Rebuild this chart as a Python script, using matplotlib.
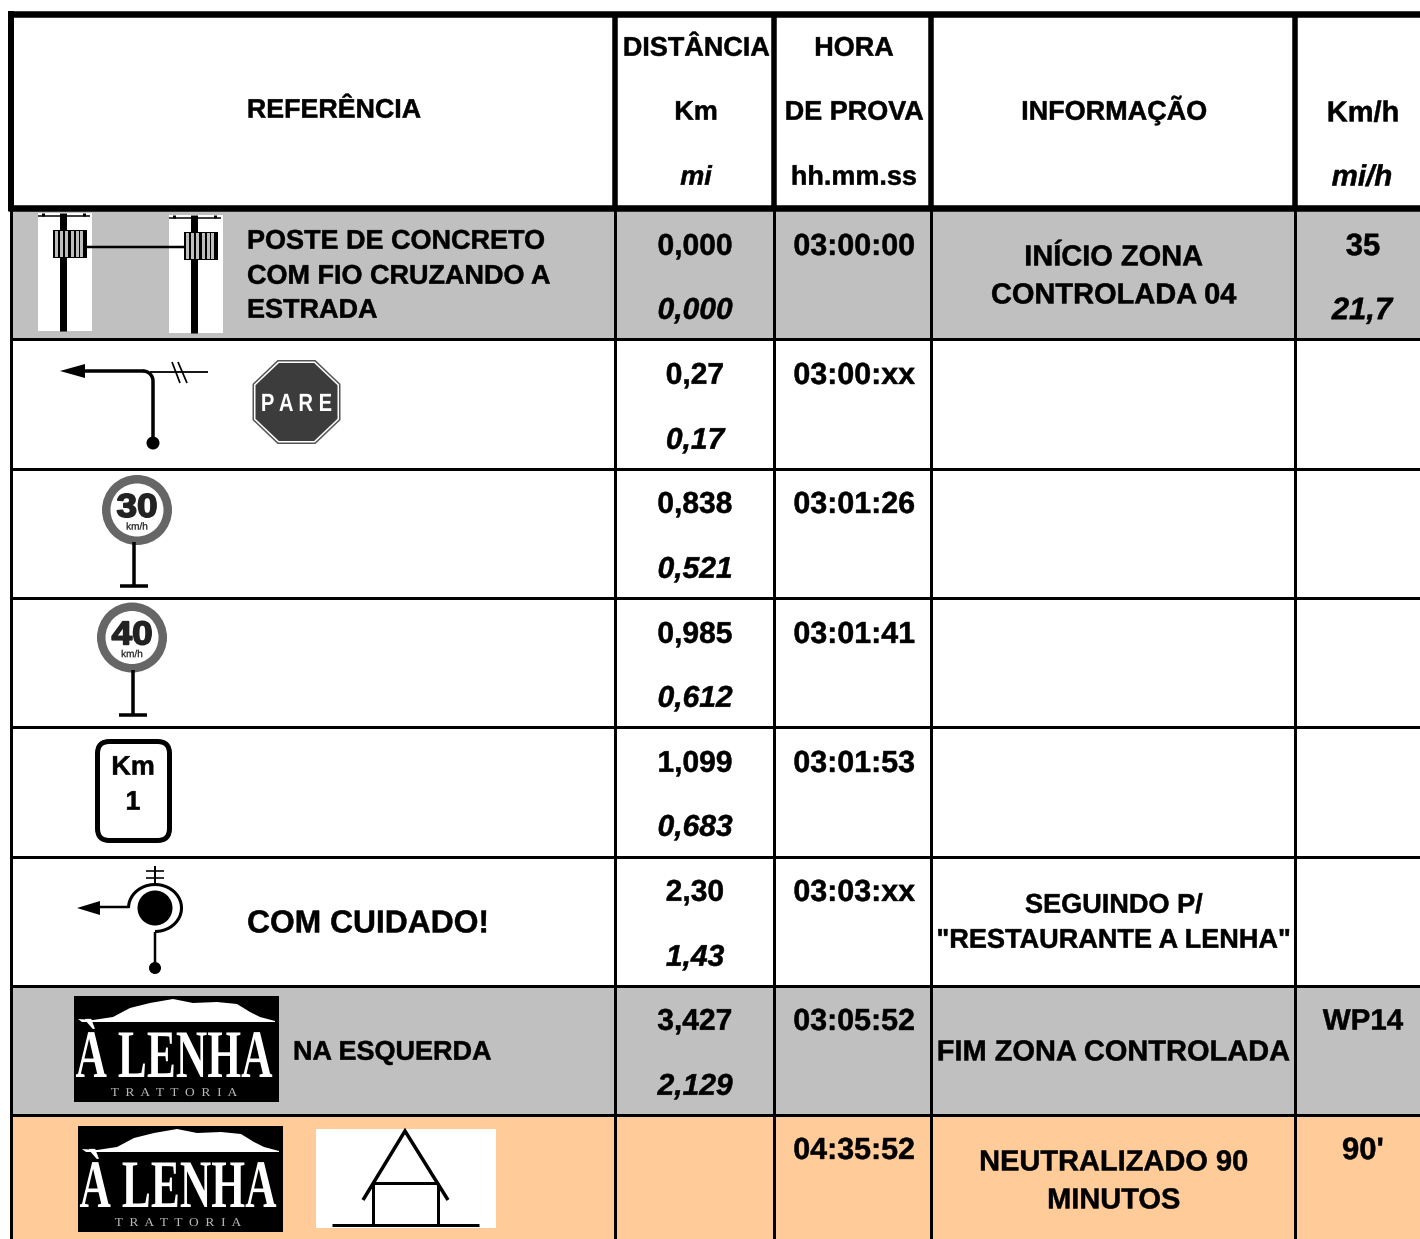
import matplotlib
matplotlib.use("Agg")
import matplotlib.pyplot as plt
from matplotlib.patches import Rectangle, Circle, Polygon, FancyBboxPatch, Arc
from matplotlib.patheffects import AbstractPathEffect
from matplotlib.transforms import Affine2D

# ---- table content ----
km_values = ["0,000", "0,27", "0,838", "0,985", "1,099", "2,30", "3,427", ""]
mi_values = ["0,000", "0,17", "0,521", "0,612", "0,683", "1,43", "2,129", ""]
times = ["03:00:00", "03:00:xx", "03:01:26", "03:01:41", "03:01:53", "03:03:xx", "03:05:52", "04:35:52"]
info_lines = [["INÍCIO ZONA", "CONTROLADA 04"], [], [], [], [],
              ['SEGUINDO P/', '"RESTAURANTE A LENHA"'], ["FIM ZONA CONTROLADA"],
              ["NEUTRALIZADO 90", "MINUTOS"]]
speed_top = {0: "35", 6: "WP14", 7: "90'"}
speed_bot = {0: "21,7"}
ref_lines = ["POSTE DE CONCRETO", "COM FIO CRUZANDO A", "ESTRADA"]

# ---- layout ----
W, H = 1420, 1239
row_y = [208, 339, 469, 598, 727, 857, 986, 1115, 1245]
col_x = [11, 615, 774, 931, 1295]
line1_y = [244, 373, 502, 632, 761, 890, 1019, 1148]
line2_y = [308, 438, 567, 696, 825, 955, 1084, 1213]
GRAY, ORANGE = "#C0C0C0", "#FFCC99"
row_fill = {0: GRAY, 6: GRAY, 7: ORANGE}
SANS, SERIF = "Liberation Sans", "Liberation Serif"
HEAVY = 0.35

fig = plt.figure(figsize=(W / 100, H / 100), dpi=100, facecolor="white")
ax = fig.add_axes([0, 0, 1, 1])
ax.set_xlim(0, W)
ax.set_ylim(H, 0)
ax.axis("off")


class Ink(AbstractPathEffect):
    """Draw real text stretched horizontally around an anchor pixel column, optionally heavier."""
    def __init__(self, cx, sx=1.0, stroke=0.0):
        super().__init__()
        self.cx, self.sx, self.stroke = cx, sx, stroke

    def draw_path(self, renderer, gc, tpath, affine, rgbFace=None):
        t = affine + Affine2D().translate(-self.cx, 0).scale(self.sx, 1).translate(self.cx, 0)
        gc0 = renderer.new_gc()
        gc0.copy_properties(gc)
        gc0.set_linewidth(self.stroke)
        if rgbFace is not None:
            gc0.set_foreground(rgbFace)
        renderer.draw_path(gc0, tpath, t, rgbFace)
        gc0.restore()


def T(x, y, s, px=27, ha="center", style="normal", weight="bold", color="black",
      family=SANS, sx=1.0, stroke=HEAVY, z=5):
    """y is the vertical middle of the capitals, px the em size in pixels."""
    t = ax.text(x, y + 0.36 * px, s, fontsize=px * 0.72, ha=ha, va="baseline", style=style,
                weight=weight, color=color, family=family, zorder=z)
    t.set_path_effects([Ink(x, sx, stroke)])
    return t


def L(xs, ys, px=3, color="black", z=3, cap="butt"):
    ax.plot(xs, ys, color=color, lw=px * 0.72, solid_capstyle=cap, solid_joinstyle="miter", zorder=z)


def R(x0, y0, x1, y1, color, z=1):
    ax.add_patch(Rectangle((x0, y0), x1 - x0, y1 - y0, fc=color, ec="none", zorder=z))


def dot(x, y, r, color="black", z=4):
    ax.add_patch(Circle((x, y), r, fc=color, ec="none", zorder=z))


def poly(pts, color="black", z=4):
    ax.add_patch(Polygon(pts, closed=True, fc=color, ec="none", zorder=z))


# ---- fills and grid ----
for i, c in row_fill.items():
    R(11, row_y[i], W, row_y[i + 1], c)
for y in row_y[1:-1]:
    L([10, W], [y, y], 3)
L([8, W], [14, 14], 6.5)
L([8, W], [208, 208], 6.5)
L([11, 11], [11, 211], 6)
L([10.5, 10.5], [208, H], 3)
for x in col_x[1:]:
    L([x, x], [14, 208], 5.5)
    L([x, x], [208, H], 3)

# ---- header ----
T(333.5, 108, "REFERÊNCIA", 26.8)
for y, s, st in [(46, "DISTÂNCIA", "normal"), (110, "Km", "normal"), (175, "mi", "italic")]:
    T(696, y, s, 27, style=st)
for y, s in [(46, "HORA"), (110, "DE PROVA"), (175, "hh.mm.ss")]:
    T(854, y, s, 27)
T(1114, 110, "INFORMAÇÃO", 27)
T(1363, 111, "Km/h", 29)
T(1362, 175, "mi/h", 29.5, style="italic")

# ---- body ----
for i in range(8):
    T(695, line1_y[i], km_values[i], 30)
    T(695, line2_y[i], mi_values[i], 30, style="italic")
    T(854, line1_y[i], times[i], 30.4)
for y, s in zip([239, 274, 308], ref_lines):
    T(247, y, s, 27, ha="left")
T(247, 921, "COM CUIDADO!", 31.8, ha="left")
T(293, 1050, "NA ESQUERDA", 27, ha="left")
for ys, lines, px in [((255, 293), info_lines[0], 29), ((903, 938), info_lines[5], 27.1),
                      ((1050,), info_lines[6], 29), ((1160, 1198), info_lines[7], 29)]:
    for y, s in zip(ys, lines):
        T(1114, y, s, px)
T(1363, 244, speed_top[0], 31)
T(1362, 308, speed_bot[0], 31, style="italic")
T(1363, 1019, speed_top[6], 29.5)
T(1363, 1148, speed_top[7], 31)


# ---- icons ----
def pole(x0, y0):
    R(x0, y0, x0 + 54, y0 + 118, "white", z=2)
    L([x0 + 25, x0 + 25], [y0, y0 + 118], 7, z=3)
    L([x0, x0 + 52], [y0 + 3, y0 + 3], 1.5, z=3)
    for dx in (5, 46):
        L([x0 + dx, x0 + dx], [y0, y0 + 3], 3, z=3)
    R(x0 + 15, y0 + 17, x0 + 49, y0 + 45, "black", z=3)
    for dx in (17, 22, 27, 33, 38, 42):
        R(x0 + dx, y0 + 18, x0 + dx + 3, y0 + 44, "#BDBDBD", z=4)


pole(38, 213)
pole(169, 215)
L([87, 186], [246.5, 246.5], 2.5, z=3)

# turn with crossing road
poly([(60, 371), (85, 364), (85, 378)])
L([84, 143], [371, 371], 3.5, cap="round")
ax.add_patch(Arc((143, 381), 20, 20, theta1=270, theta2=360, lw=2.5, color="black", zorder=3))
L([153, 153], [381, 443], 3.5)
dot(153, 443, 6.5)
L([150, 208], [372, 372], 1.8)
L([172, 180], [362, 383], 1.7)
L([178, 187], [362, 383], 1.7)

# stop sign
def octagon(cx, cy, rx, ry, k=0.43):
    return [(cx - k * rx, cy - ry), (cx + k * rx, cy - ry), (cx + rx, cy - k * ry), (cx + rx, cy + k * ry),
            (cx + k * rx, cy + ry), (cx - k * rx, cy + ry), (cx - rx, cy + k * ry), (cx - rx, cy - k * ry)]


poly(octagon(296.5, 402, 44, 42), "#555555", z=3)
poly(octagon(296.5, 402, 42.5, 40.5), "white", z=3)
poly(octagon(296.5, 402, 41, 39), "#3C3C3C", z=4)
T(296.5, 402, "P A R E", 25, color="white", sx=0.81, stroke=0)

# speed signs
def speed_sign(cx, cy, text, post_x, post_top, post_bottom):
    dot(cx, cy, 35, "#666666", z=3)
    dot(cx, cy, 26.5, "white", z=4)
    T(cx, cy - 5, text, 33, color="#222222", sx=1.12, stroke=1.2)
    T(cx, cy + 16, "km/h", 10, weight="normal", color="#222222", stroke=0.2, z=6)
    L([post_x, post_x], [post_top, post_bottom], 3.5)
    L([post_x - 14, post_x + 14], [post_bottom, post_bottom], 3.5)


speed_sign(137, 510, "30", 133.5, 542, 586)
speed_sign(132, 637.5, "40", 133, 670, 715)

# km marker
ax.add_patch(FancyBboxPatch((109.5, 753.5), 48, 75, boxstyle="round,pad=12,rounding_size=12",
                            fc="white", ec="black", lw=5 * 0.72, zorder=3))
T(133, 765, "Km", 27)
T(133, 800, "1", 27)

# roundabout
dot(155, 908, 17.5)
ax.add_patch(Arc((155, 908), 53, 47, theta1=180, theta2=450, lw=2.2, color="black", zorder=3))
poly([(77, 908), (100, 901), (100, 915)])
L([100, 129], [907, 907], 2.5)
L([155, 155], [932, 968], 2.5)
dot(155, 968, 6)
L([155, 155], [866, 884], 2)
L([146, 164], [871, 871], 1.6)
L([146, 164], [878, 878], 1.6)

# restaurant logo
mountain_x = [4, 19, 39, 56, 76, 99, 119, 143, 163, 176, 186, 201, 201, 20, 8]
mountain_y = [23, 24, 21, 12, 7, 3, 7, 6, 8, 16, 21, 25, 26, 26, 26]


def logo(x0, y0):
    R(x0, y0, x0 + 205, y0 + 106, "black", z=2)
    poly([(x0 + mx, y0 + my) for mx, my in zip(mountain_x, mountain_y)], "white", z=3)
    cx = x0 + 100
    t = ax.text(cx, y0 + 81, "À LENHA", fontsize=68 * 0.72, family=SERIF, weight="bold", color="white",
                ha="center", va="baseline", zorder=5)
    t.set_path_effects([Ink(cx, 0.64)])
    s = ax.text(x0 + 100, y0 + 100, "T  R  A  T  T  O  R  I  A", fontsize=12 * 0.72, family=SERIF,
                color="#BBBBBB", ha="center", va="baseline", zorder=5)
    s.set_path_effects([Ink(x0 + 100, 1.12)])


logo(74, 996)
logo(78, 1126)

# house
R(316, 1129, 496, 1228, "white", z=2)
L([363, 405, 448], [1200, 1131, 1200], 3.5)
L([373, 438], [1183, 1183], 3)
L([373, 373], [1183, 1225], 3)
L([438, 438], [1183, 1225], 3)
L([332, 479], [1225, 1225], 3)

fig.savefig("out.png", dpi=100, facecolor="white")
